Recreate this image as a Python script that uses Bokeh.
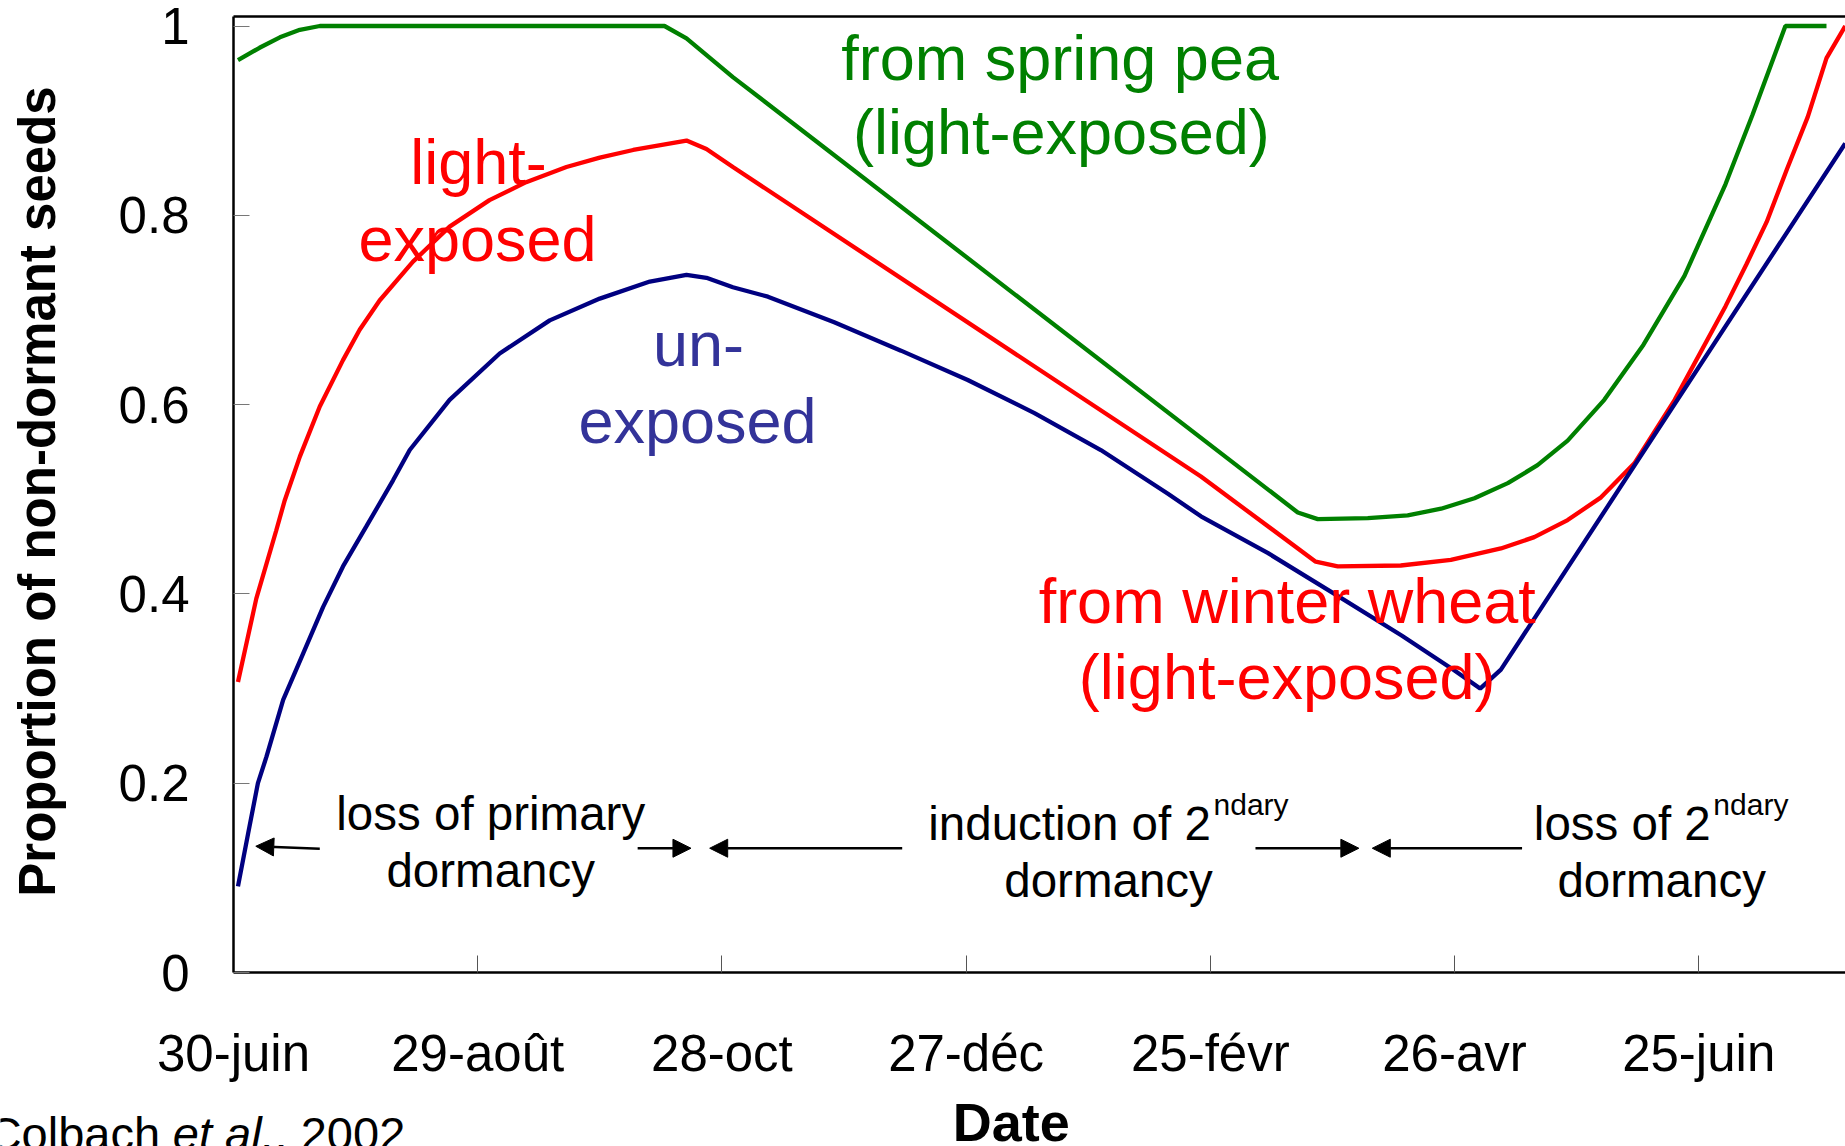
import math
from bokeh.plotting import figure
from bokeh.models import Range1d, FixedTicker, Label, Arrow, NormalHead, LinearAxis
from bokeh.embed import file_html
from bokeh.resources import INLINE

# ---------------- data (day counted from 30 June) ----------------
x_tick_days = [0, 60, 120, 180, 240, 300, 360]
x_tick_labels = ["30-juin", "29-août", "28-oct", "27-déc", "25-févr", "26-avr", "25-juin"]
y_tick_vals = [0, 0.2, 0.4, 0.6, 0.8, 1.0]
y_tick_labels = ["0", "0.2", "0.4", "0.6", "0.8", "1"]

spring_pea_day = [1.1, 6.4, 11.4, 16.3, 21.2, 105.9, 111.3, 122.7, 261.5, 266.4, 278.7,
                  288.5, 296.7, 304.9, 313.1, 320.4, 327.8, 336.8, 346.4, 356.5, 366.6,
                  373.2, 381.3, 391.4]
spring_pea_val = [0.964, 0.977, 0.988, 0.996, 1.0, 1.0, 0.987, 0.946, 0.486, 0.479, 0.480,
                  0.483, 0.490, 0.501, 0.517, 0.536, 0.562, 0.605, 0.663, 0.736, 0.833,
                  0.906, 1.0, 1.0]

wheat_light_day = [1.1, 5.6, 10.5, 12.6, 16.3, 21.2, 26.9, 31.0, 35.9, 44.1, 53.1, 62.9,
                   71.9, 81.8, 90.0, 98.2, 111.3, 116.2, 122.7, 237.7, 265.9, 271.3,
                   286.8, 299.1, 311.4, 319.6, 327.8, 336.0, 344.2, 354.1, 366.6, 371.7,
                   376.7, 381.7, 386.8, 391.4, 396.0]
wheat_light_val = [0.307, 0.395, 0.467, 0.499, 0.545, 0.598, 0.647, 0.679, 0.710, 0.751,
                   0.788, 0.816, 0.835, 0.851, 0.861, 0.869, 0.879, 0.870, 0.851, 0.524,
                   0.434, 0.429, 0.430, 0.436, 0.448, 0.460, 0.478, 0.502, 0.538, 0.605,
                   0.704, 0.748, 0.793, 0.849, 0.904, 0.966, 1.0]

unexposed_day = [1.1, 3.6, 6.0, 8.1, 12.2, 17.1, 22.0, 26.9, 32.6, 39.2, 43.3, 53.1, 65.4,
                 77.7, 90.0, 102.3, 111.3, 116.2, 122.7, 131.3, 147.6, 164.0, 180.4,
                 196.8, 213.1, 229.5, 237.7, 254.2, 270.5, 287.0, 300.0, 306.3, 311.4,
                 396.0]
unexposed_val = [0.091, 0.147, 0.200, 0.228, 0.288, 0.337, 0.386, 0.429, 0.471, 0.520,
                 0.552, 0.605, 0.654, 0.689, 0.712, 0.730, 0.737, 0.734, 0.724, 0.714,
                 0.687, 0.657, 0.626, 0.591, 0.552, 0.506, 0.482, 0.443, 0.400, 0.356,
                 0.319, 0.300, 0.320, 0.876]

# ---------------- figure ----------------
FONT = "Liberation Sans"
W, H = 1845, 1146
X0_PX, PX_PER_DAY = 233.0, 4.07      # where day 0 sits, scale
Y0_PX, PX_PER_UNIT = 972.0, 946.5    # where value 0 sits, scale
Y_TOP = 1.0104                        # top border of the plotting box
X_AXIS_END = 400

p = figure(width=W, height=H, output_backend="svg", toolbar_location=None,
           x_range=Range1d(-X0_PX / PX_PER_DAY, (W - X0_PX) / PX_PER_DAY),
           y_range=Range1d(-(H - Y0_PX) / PX_PER_UNIT, Y0_PX / PX_PER_UNIT),
           min_border_left=0, min_border_right=0, min_border_top=0, min_border_bottom=0)
p.outline_line_color = None
p.grid.visible = False
p.background_fill_color = "white"
p.border_fill_color = "white"

xa = p.xaxis[0]
xa.fixed_location = 0
xa.bounds = (0, X_AXIS_END)
xa.ticker = FixedTicker(ticks=x_tick_days)
xa.major_label_overrides = dict(zip(x_tick_days, x_tick_labels))
xa.major_tick_in = 17
xa.major_tick_out = 0
xa.minor_tick_in = 0
xa.minor_tick_out = 0
xa.major_tick_line_color = "#555555"
xa.major_tick_line_width = 1
xa.axis_line_width = 2.5
xa.axis_line_color = "black"
xa.major_label_text_font = FONT
xa.major_label_text_font_size = "51px"
xa.major_label_text_color = "black"
xa.major_label_standoff = 52

ya = p.yaxis[0]
ya.fixed_location = 0
ya.bounds = (0, Y_TOP)
ya.ticker = FixedTicker(ticks=y_tick_vals)
ya.major_label_overrides = dict(zip(y_tick_vals, y_tick_labels))
ya.major_tick_in = 16
ya.major_tick_out = 0
ya.minor_tick_in = 0
ya.minor_tick_out = 0
ya.major_tick_line_color = "#777777"
ya.major_tick_line_width = 1
ya.axis_line_width = 2.5
ya.axis_line_color = "black"
ya.major_label_text_font = FONT
ya.major_label_text_font_size = "51px"
ya.major_label_text_color = "black"
ya.major_label_standoff = 44

top = LinearAxis(fixed_location=Y_TOP, bounds=(0, X_AXIS_END), axis_line_width=2.5,
                 axis_line_color="black", major_tick_in=0, major_tick_out=0,
                 minor_tick_in=0, minor_tick_out=0, major_label_text_font_size="0px")
top.ticker = FixedTicker(ticks=[])
p.add_layout(top, "above")

# ---------------- curves ----------------
p.line(spring_pea_day, spring_pea_val, line_color="#008000", line_width=4.3)
p.line(wheat_light_day, wheat_light_val, line_color="#FF0000", line_width=4.3)
p.line(unexposed_day, unexposed_val, line_color="#000080", line_width=4.3)

# ---------------- text ----------------
BASE_SHIFT = 0.365  # em; compensates where the renderer puts the alphabetic baseline

def lab(x, y, text, color="black", size=63, align="center", style="normal", angle=0.0):
    shift = BASE_SHIFT * size
    if angle == 0.0:
        y = y + shift / PX_PER_UNIT
    else:
        x = x - shift / PX_PER_DAY
    p.add_layout(Label(x=x, y=y, text=text, text_color=color, text_font=FONT,
                       text_font_size=f"{size}px", text_align=align,
                       text_baseline="alphabetic", text_font_style=style, angle=angle))

RED, GREEN, BLUE = "#FF0000", "#008000", "#333399"
lab(60.2, 0.8315, "light-", RED)
lab(59.95, 0.7505, "exposed", RED)
lab(114.25, 0.6395, "un-", BLUE)
lab(114.0, 0.5586, "exposed", BLUE)
lab(203.1, 0.9424, "from spring pea", GREEN)
lab(203.4, 0.8632, "(light-exposed)", GREEN)
lab(258.9, 0.3684, "from winter wheat", RED)
lab(258.9, 0.2874, "(light-exposed)", RED)

lab(63.2, 0.1493, "loss of primary", size=47.5)
lab(63.2, 0.0895, "dormancy", size=47.5)
lab(170.7, 0.1395, "induction of 2", size=47.5, align="left")
lab(240.8, 0.1659, "ndary", size=30, align="left")
lab(215.0, 0.0792, "dormancy", size=47.5)
lab(319.5, 0.1389, "loss of 2", size=47.5, align="left")
lab(363.6, 0.1659, "ndary", size=30, align="left")
lab(350.9, 0.0792, "dormancy", size=47.5)

lab(191.1, -0.1793, "Date", size=54, style="bold")
lab(-43.5, 0.5082, "Proportion of non-dormant seeds", size=51, style="bold",
    angle=math.pi / 2)
lab(-60.4, -0.1885, "Colbach ", size=47, align="left")
lab(-14.9, -0.1885, "et al.", size=47, align="left", style="italic")
lab(10.1, -0.1885, ", 2002", size=47, align="left")

# ---------------- arrows ----------------
def arr(x0, y0, x1, y1):
    p.add_layout(Arrow(x_start=x0, y_start=y0, x_end=x1, y_end=y1, line_width=2.5,
                       line_color="black",
                       end=NormalHead(size=18, fill_color="black", line_color="black",
                                      line_width=1)))

arr(21.2, 0.1307, 5.48, 0.1334)
arr(99.3, 0.1313, 112.4, 0.1313)
arr(164.3, 0.1313, 117.0, 0.1313)
arr(251.1, 0.1313, 276.5, 0.1313)
arr(316.6, 0.1313, 279.8, 0.1313)

open("out.html", "w", encoding="utf-8").write(file_html(p, INLINE))
